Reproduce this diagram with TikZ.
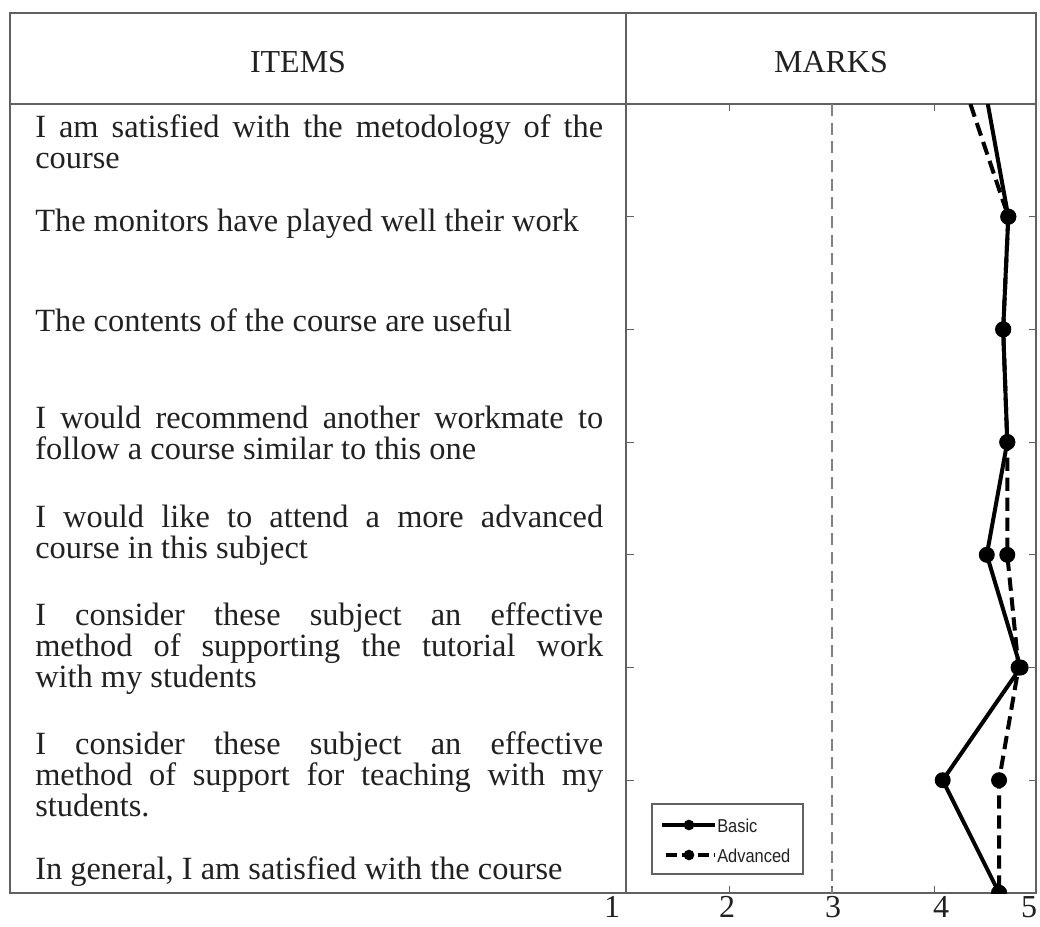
\documentclass[tikz,border=0pt]{standalone}
\usepackage{fontspec}
\setmainfont{Liberation Serif}
\newfontfamily\legendfont[FakeStretch=0.88]{Liberation Sans}
\usetikzlibrary{arrows,shapes}
\hyphenpenalty=10000
\definecolor{rulegray}{gray}{0.38}
\definecolor{inkgray}{gray}{0.13}
\tikzstyle{frame}=[draw=rulegray,line width=1.4pt]
\tikzstyle{head}=[font=\fontsize{24}{28}\selectfont,text=inkgray]
\tikzstyle{item}=[anchor=base west,text width=426pt,align=justify,inner sep=0pt,
  text=inkgray,font=\fontsize{24.3}{23.6}\selectfont]
\tikzstyle{ticklabel}=[anchor=base,inner sep=0pt,text=inkgray,font=\fontsize{24}{24}\selectfont]
\tikzstyle{tickline}=[draw=rulegray,line width=0.8pt]
\tikzstyle{refline}=[draw=gray,line width=1pt,dash pattern=on 9pt off 5pt]
\tikzstyle{basic}=[draw=black,line width=3pt,line join=round]
\tikzstyle{advanced}=[draw=black,line width=3pt,dash pattern=on 10pt off 5pt]
\tikzstyle{dot}=[circle,fill=black,inner sep=0pt,minimum size=12pt]
\tikzstyle{smalldot}=[circle,fill=black,inner sep=0pt,minimum size=8pt]
\tikzstyle{legendtext}=[anchor=west,inner sep=0pt,text=inkgray,font=\legendfont\fontsize{14}{16}\selectfont]

\begin{document}
\begin{tikzpicture}[x=0.75pt,y=-0.75pt]
    \useasboundingbox (0,0) rectangle (1040,926);
    % table
    \draw[frame] (10,13) rectangle (1036,893);
    \draw[frame] (10,104) -- (1036,104);
    \draw[frame] (626,13) -- (626,893);
    \node[head] (items) at (298,62) {ITEMS};
    \node[head] (marks) at (831,62) {MARKS};

    \foreach \y/\txt [count=\n] in
    {137/{I am satisfied with the metodology of the\linebreak course},
     231/{The monitors have played well their work},
     331/{The contents of the course are useful},
     428/{I would recommend another workmate to\linebreak follow a course similar to this one},
     527/{I would like to attend a more advanced\linebreak course in this subject},
     625/{I consider these subject an effective\linebreak method of supporting the tutorial work\linebreak with my students},
     754/{I consider these subject an effective\linebreak method of support for teaching with my\linebreak students.},
     879/{In general, I am satisfied with the course}}
        \node[item] (item\n) at (35,\y) {\txt};

    % axes
    \foreach \v in {2,3,4} {
        \draw[tickline] ({627+(\v-1)*102.5},104) -- ++(0,7);
        \draw[tickline] ({627+(\v-1)*102.5},893) -- ++(0,-7);
    }
    \foreach \i in {2,...,7} {
        \draw[tickline] (627,{104+(\i-1)*112.7}) -- ++(7,0);
        \draw[tickline] (1036,{104+(\i-1)*112.7}) -- ++(-7,0);
    }
    \draw[refline] (832,104) -- (832,893);
    \foreach \v/\x in {1/612,2/727,3/833,4/941,5/1029}
        \node[ticklabel] (tick\v) at (\x,917) {\v};

    % marks
    \foreach \b/\a [count=\i] in {4.52/4.35,4.72/4.72,4.67/4.67,4.71/4.71,
    4.51/4.71,4.84/4.82,4.08/4.63,4.63/4.63} {
        \coordinate (b\i) at ({627+(\b-1)*102.5},{104+(\i-1)*112.7});
        \coordinate (a\i) at ({627+(\a-1)*102.5},{104+(\i-1)*112.7});
    }
    \begin{scope}
        \clip (627,104) rectangle (1037,893);
        \draw[advanced] (a1) -- (a2) -- (a3) -- (a4) -- (a5) -- (a6) -- (a7) -- (a8);
        \draw[basic] (b1) -- (b2) -- (b3) -- (b4) -- (b5) -- (b6) -- (b7) -- (b8);
        \foreach \i in {2,...,8} {
            \node[dot] (adot\i) at (a\i) {};
            \node[dot] (bdot\i) at (b\i) {};
        }
    \end{scope}

    % legend
    \draw[draw=rulegray,line width=1pt] (652,804) rectangle (803,874);
    \coordinate (lb1) at (662,825);
    \coordinate (lb2) at (715,825);
    \coordinate (la1) at (666,855);
    \coordinate (la2) at (715,855);
    \draw[basic] (lb1) -- (lb2);
    \draw[advanced,dash pattern=on 8pt off 4pt] (la1) -- (la2);
    \node[smalldot] (lbdot) at (689,825) {};
    \node[smalldot] (ladot) at (689,855) {};
    \node[legendtext] (basiclbl) at (717,826) {Basic};
    \node[legendtext] (advlbl) at (717,856) {Advanced};
\end{tikzpicture}
\end{document}
